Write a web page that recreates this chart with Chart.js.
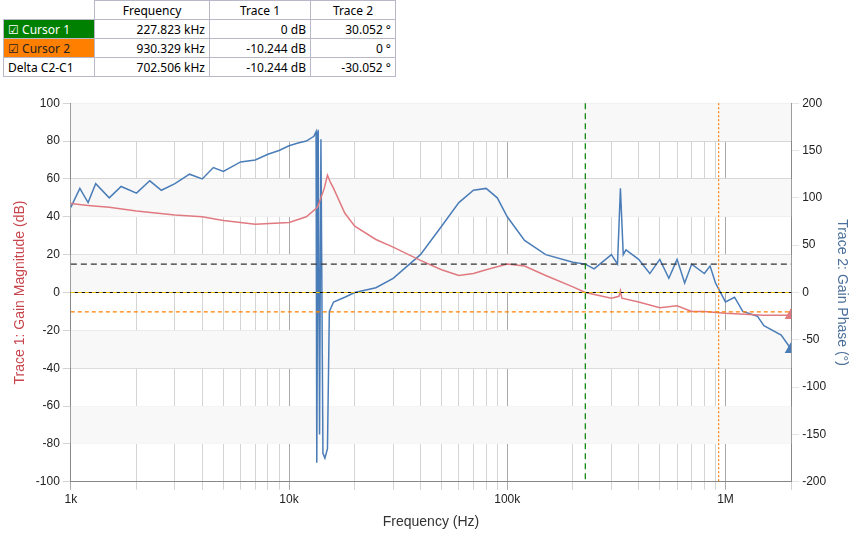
<!DOCTYPE html>
<html><head><meta charset="utf-8">
<script src="https://cdn.jsdelivr.net/npm/chart.js@4"></script>
<style>
body{margin:0;background:#fff;font-family:"Noto Sans",sans-serif;}
#tbl{position:absolute;left:3px;top:0;border-collapse:collapse;font-size:12px;}
#tbl td{border:1px solid #b8b8c8;height:18px;padding:0 4px;text-align:right;}
#tbl td.n{text-align:left;width:82px;}
#wrap{position:absolute;left:0;top:93px;width:856px;height:446px;}
</style></head><body>
<table id="tbl">
<tr><td class="n" style="border:none"></td><td style="width:106px;text-align:center">Frequency</td><td style="width:92px;text-align:center">Trace 1</td><td style="width:76px;text-align:center">Trace 2</td></tr>
<tr><td class="n" style="background:#008000;color:#fff">&#9745; Cursor 1</td><td>227.823 kHz</td><td>0 dB</td><td>30.052 °</td></tr>
<tr><td class="n" style="background:#ff8000;color:#222">&#9745; Cursor 2</td><td>930.329 kHz</td><td>-10.244 dB</td><td>0 °</td></tr>
<tr><td class="n">Delta C2-C1</td><td>702.506 kHz</td><td>-10.244 dB</td><td>-30.052 °</td></tr>
</table>
<div id="wrap"><canvas id="c"></canvas></div>
<script>
// magnitude trace (dB)
const magFreq = [1000,1200,1500,2000,3000,4000,5000,7000,10000,12000,13500,14500,15000,15500,16000,18000,20000,25000,30000,40000,50000,60000,70000,80000,100000,120000,150000,200000,227823,300000,325000,330000,335000,400000,500000,600000,700000,800000,1000000,1500000,2000000];
const magVals = [47,46,45,43,41,40,38,36,37,40,45,55,62,58,55,42,35,28,24,17,12,9,10,12,15,14,9,3,0,-3,-2,1,-3,-5,-8,-7,-10,-10,-11,-12,-12];
// phase trace (deg)
const phFreq = [1000,1100,1200,1300,1500,1700,2000,2300,2600,3000,3500,4000,4500,5000,6000,7000,8000,9000,10000,11000,12000,13000,13300,13400,13600,13800,14000,14300,14600,15000,15300,16000,18000,20000,25000,30000,40000,50000,60000,70000,80000,90000,100000,120000,150000,200000,227823,250000,300000,320000,330000,340000,350000,400000,450000,500000,550000,600000,650000,700000,800000,850000,900000,1000000,1100000,1200000,1400000,1500000,1800000,2000000];
const phVals = [90,110,95,115,100,112,105,118,108,115,125,120,132,128,138,140,146,150,155,158,160,165,170,-180,172,-150,162,-170,-175,-165,-20,-10,-5,0,5,15,40,70,95,108,110,100,80,55,40,32,30,25,40,30,110,40,45,35,20,35,15,35,10,30,20,28,10,-10,-5,-20,-25,-35,-45,-60];
const xTicks = [1000,10000,100000,1000000];
const c1 = {f:227823, mag:0, ph:30.052};
const c2 = {f:930329, mag:-10.244, ph:0};

const cursors = {
  id:'cursors',
  beforeDatasetsDraw(ch){
    const {ctx, chartArea:a, scales:{y}} = ch;
    ctx.save();
    // alternating bands
    ctx.fillStyle='#f8f8f8';
    for(let v=-80; v<100; v+=40){
      const t=y.getPixelForValue(v+20), b=y.getPixelForValue(v);
      ctx.fillRect(a.left,t,a.right-a.left,b-t);
    }
    ctx.restore();
  },
  afterDatasetsDraw(ch){
    const {ctx, chartArea:a, scales:{x,y,y2}} = ch;
    ctx.save();
    const h=(py,col,dash)=>{ctx.strokeStyle=col;ctx.setLineDash(dash);ctx.beginPath();ctx.moveTo(a.left,py);ctx.lineTo(a.right,py);ctx.stroke();};
    const v=(px,col,dash)=>{ctx.strokeStyle=col;ctx.setLineDash(dash);ctx.beginPath();ctx.moveTo(px,a.top);ctx.lineTo(px,a.bottom);ctx.stroke();};
    ctx.lineWidth=1.2;
    h(y2.getPixelForValue(c1.ph),'#333',[6,4]);
    h(y.getPixelForValue(c1.mag),'#000',[]);
    h(y.getPixelForValue(c1.mag),'#e8c000',[4,3]);
    h(y.getPixelForValue(c2.mag),'#ff8000',[4,3]);
    v(x.getPixelForValue(c1.f),'#008000',[6,4]);
    v(x.getPixelForValue(c2.f),'#ff8000',[2,2]);
    ctx.restore();
  }
};

function lbl(v){ if(v>=1e6) return (v/1e6)+'M'; if(v>=1e3) return (v/1e3)+'k'; return ''+v; }

new Chart(document.getElementById('c'), {
  type:'scatter',
  data:{datasets:[
    {label:'Trace 1', data:magFreq.map((f,i)=>({x:f,y:magVals[i]})), yAxisID:'y', showLine:true, borderColor:'#e07a80', borderWidth:1.5,
     pointRadius:magFreq.map((f,i)=>i===magFreq.length-1?6:0), pointStyle:'triangle', backgroundColor:'#e07a80'},
    {label:'Trace 2', data:phFreq.map((f,i)=>({x:f,y:phVals[i]})), yAxisID:'y2', showLine:true, borderColor:'#4a7db8', borderWidth:1.5,
     pointRadius:phFreq.map((f,i)=>i===phFreq.length-1?6:0), pointStyle:'triangle', backgroundColor:'#4a7db8'}
  ]},
  options:{
    responsive:true, maintainAspectRatio:false, animation:false,
    layout:{padding:{left:8,right:2,top:8,bottom:4}},
    plugins:{legend:{display:false},tooltip:{enabled:false}},
    scales:{
      x:{type:'logarithmic', min:1000, max:2000000,
        afterBuildTicks(s){ const t=[]; for(let d=1000; d<=1e6; d*=10) for(let m=1;m<10;m++){ if(d*m<=2e6) t.push({value:d*m}); } t.push({value:2e6}); s.ticks=t; },
        ticks:{autoSkip:false, maxRotation:0, color:'#222', font:{size:12}, callback:(v)=>xTicks.includes(v)?lbl(v):''},
        grid:{color:(c)=>xTicks.includes(c.tick.value)?'#aaa':'#d4d4d4'},
        border:{color:'#888'},
        title:{display:true,text:'Frequency (Hz)',color:'#333',font:{size:14}}},
      y:{min:-100,max:100, ticks:{stepSize:20,color:'#222',font:{size:12}}, grid:{color:'#d4d4d4'}, border:{color:'#888'},
        title:{display:true,text:'Trace 1: Gain Magnitude (dB)',color:'#c8454d',font:{size:14}}},
      y2:{position:'right',min:-200,max:200, ticks:{stepSize:50,color:'#222',font:{size:12}}, grid:{drawOnChartArea:false}, border:{color:'#888'},
        title:{display:true,text:'Trace 2: Gain Phase (°)',color:'#4a6f9a',font:{size:14}}}
    }
  },
  plugins:[cursors]
});
</script></body></html>
